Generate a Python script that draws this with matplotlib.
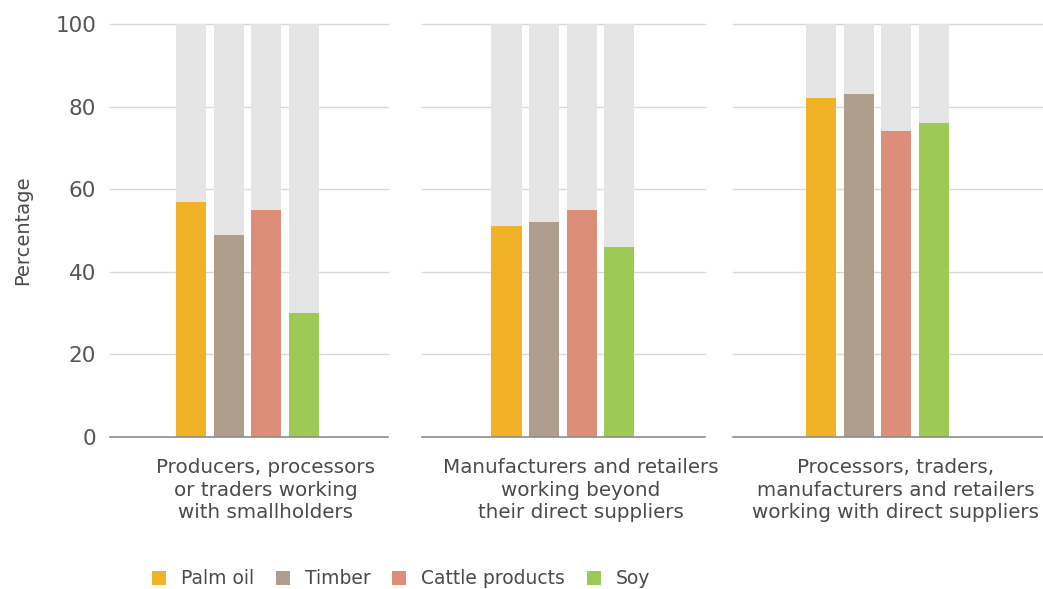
import numpy as np
import matplotlib.pyplot as plt
from matplotlib.patches import Patch

# data
groups = ["Producers, processors\nor traders working\nwith smallholders",
          "Manufacturers and retailers\nworking beyond\ntheir direct suppliers",
          "Processors, traders,\nmanufacturers and retailers\nworking with direct suppliers"]
commodities = ["Palm oil", "Timber", "Cattle products", "Soy"]
palm_oil = [57, 51, 82]
timber = [49, 52, 83]
cattle = [55, 55, 74]
soy = [30, 46, 76]
yticks = [0, 20, 40, 60, 80, 100]

colors = ["#F2B227", "#AE9E8B", "#DC8E78", "#9DCA55"]
bg_color = "#E5E5E5"
grid_color = "#D8D8D8"
text_color = "#4A4A4A"

plt.rcParams['font.family'] = ['DejaVu Sans']

W, H = 1043, 589
fig = plt.figure(figsize=(W / 100, H / 100), dpi=100)

# panel extents in pixels (left, right)
panels = [(110, 388), (422, 705), (733, 1043)]
first_center = [191, 506.5, 821]
unit = 37.6
top, bottom = 24, 437

values = np.array([palm_oil, timber, cattle, soy])  # commodity x group
x = np.arange(len(commodities))

for i, ((l, r), fc) in enumerate(zip(panels, first_center)):
    ax = fig.add_axes([l / W, 1 - bottom / H, (r - l) / W, (bottom - top) / H])
    ax.set_xlim(-(fc - l) / unit, (r - fc) / unit)
    ax.set_ylim(0, 100)
    ax.bar(x, 100, width=0.8, color=bg_color, zorder=2)
    ax.bar(x, values[:, i], width=0.8, color=colors, zorder=3)
    for t in yticks[1:]:
        ax.axhline(t, color=grid_color, lw=1, zorder=1, clip_on=False)
    ax.axhline(0, color="#8C8C8C", lw=1.2, zorder=4, clip_on=False)
    for s in ax.spines.values():
        s.set_visible(False)
    ax.set_xticks([])
    ax.set_yticks(yticks)
    ax.tick_params(axis='y', length=0, pad=10, labelsize=15.5, labelcolor="#555555")
    if i > 0:
        ax.set_yticklabels([])
    else:
        ax.set_ylabel("Percentage", fontsize=14, color=text_color, labelpad=17)
    # group label sits a little right of the bar group
    cx = (fc + 1.5 * unit + 18 - l) / (r - l)
    ax.text(cx, -0.052, groups[i], transform=ax.transAxes, ha='center', va='top',
            fontsize=14.3, color=text_color, linespacing=1.22)

handles = [Patch(facecolor=c, edgecolor='none') for c in colors]
fig.legend(handles, commodities, loc='center left', bbox_to_anchor=(135 / W, 1 - 579 / H),
           ncol=4, frameon=False, fontsize=13.5, handlelength=0.75, handleheight=0.75,
           handletextpad=0.8, columnspacing=1.15, labelcolor=text_color)

fig.savefig("out.png", dpi=100)
